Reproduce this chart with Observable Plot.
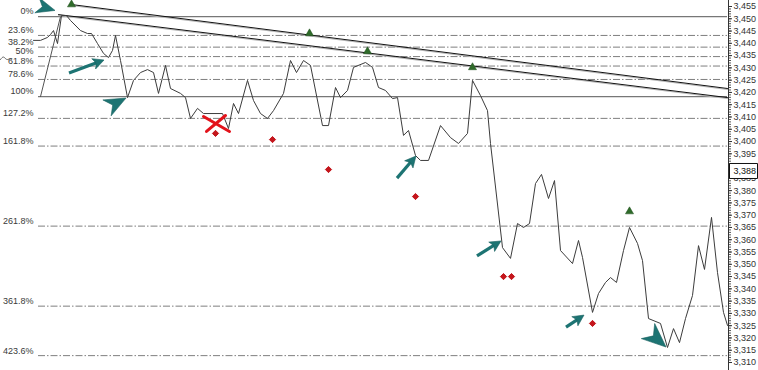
<!DOCTYPE html>
<html><head><meta charset="utf-8">
<script src="https://cdn.jsdelivr.net/npm/d3@7"></script>
<script src="https://cdn.jsdelivr.net/npm/@observablehq/plot@0.6"></script>
<style>body{margin:0;background:#fff}svg{display:block}</style>
</head><body><div id="chart"></div>
<script>
// ---- data ----
const priceT = [33,40,47,50,53,57,61,66,70,80,87,91,97,103,108,112,115,120,127,133,140,147,153,158,165,170,180,185,190,197,203,222,228,233,238,247,253,260,267,273,283,290,296,303,310,322,328,335,340,347,353,365,372,378,385,392,397,403,408,415,420,428,440,450,458,467,472,480,487,490,502,510,517,523,529,535,541,548,554,560,572,578,582,592,598,605,610,616,623,629,637,642,648,660,667,673,679,685,692,698,704,711,717,723,727];
const priceV = [3441.2,3441.2,3442.4,3443.6,3445.2,3439.9,3451.3,3451.3,3449.3,3445.2,3444.0,3444.0,3439.9,3435.9,3434.2,3437.1,3443.2,3433.0,3417.9,3424.9,3428.1,3429.3,3428.1,3419.6,3431.0,3421.6,3419.6,3417.9,3409.4,3413.5,3411.4,3411.4,3405.3,3415.5,3411.4,3424.9,3416.7,3411.4,3409.4,3412.6,3419.6,3433.0,3428.1,3433.0,3431.0,3406.5,3406.5,3422.0,3417.9,3420.8,3430.2,3432.2,3430.2,3422.0,3420.8,3417.5,3417.9,3402.5,3404.5,3394.3,3392.3,3392.3,3406.5,3401.6,3399.2,3403.3,3424.9,3418.7,3412.6,3399.2,3356.8,3352.4,3366.6,3365.0,3366.6,3382.9,3386.6,3376.8,3384.1,3355.6,3350.3,3359.7,3352.8,3330.4,3338.1,3342.6,3344.6,3342.6,3355.6,3365.0,3358.5,3351.5,3327.9,3325.9,3316.1,3323.8,3318.1,3327.9,3337.3,3357.6,3347.9,3369.1,3346.6,3330.4,3325.1];

const fibLabels = ["0%","23.6%","38.2%","50%","61.8%","78.6%","100%","127.2%","161.8%","261.8%","361.8%","423.6%"];
const fibPrices = [3450.9,3443.21,3438.45,3434.6,3430.75,3425.28,3418.3,3409.43,3398.15,3365.55,3332.95,3312.8];
const fibKind   = ["solid","dash","dash","dash","dash","dash","solid","dash","dash","dash","dash","dash"];
const fibSpanT  = [38, 727];
const fibAnchorT = [40, 60];
const fibAnchorV = [3418.3, 3450.9];

const trendName = ["A","A","B","B"];
const trendT = [71, 727, 58, 727];
const trendV = [3455.8, 3421.6, 3451.7, 3417.9];

const greenT = [71, 309, 367, 472, 629];
const greenV = [3455.8, 3444.0, 3436.7, 3430.2, 3371.5];

const redT = [215, 272, 328, 415, 503, 511, 592];
const redV = [3403.3, 3400.8, 3388.6, 3377.6, 3345.0, 3345.0, 3325.9];

const crossT1 = [203, 206];
const crossV1 = [3410.2, 3404.1];
const crossT2 = [229, 225];
const crossV2 = [3404.1, 3410.6];

const arrowKind  = ["head","shaft","head","shaft","shaft","shaft","head"];
const arrowTailT = [37, 69, 107, 397, 477, 566, 648];
const arrowTailV = [3455.3, 3427.7, 3413.5, 3384.9, 3353.2, 3324.2, 3322.6];
const arrowTipT  = [55, 104, 126, 416, 501, 584, 666];
const arrowTipV  = [3453.2, 3433.0, 3417.5, 3393.9, 3359.3, 3329.1, 3316.1];

const squiggleT = [0, 3, 6, 9, 11];
const squiggleV = [3433.4, 3435.0, 3433.0, 3433.8, 3433.4];

const yTicksMajor = d3.range(3310, 3456, 5);
const yTicksMinor = d3.range(3310, 3456, 1);
const yLabelHidden = [3390];          // covered by the last-price box
const lastPrice = [3388];
const xDomain = [0, 728];
const yDomain = [3310, 3455];

// ---- tables ----
const price = priceT.map((t, i) => ({t, v: priceV[i]}));
const fib = fibLabels.map((label, i) => ({label, v: fibPrices[i], kind: fibKind[i]}));
const trend = trendT.map((t, i) => ({t, v: trendV[i], z: trendName[i]}));
const fibAnchor = fibAnchorT.map((t, i) => ({t, v: fibAnchorV[i]}));
const squiggle = squiggleT.map((t, i) => ({t, v: squiggleV[i]}));
const greens = greenT.map((t, i) => ({t, v: greenV[i]}));
const reds = redT.map((t, i) => ({t, v: redV[i]}));
const crosses = crossT1.map((t, i) => ({x1: t, y1: crossV1[i], x2: crossT2[i], y2: crossV2[i]}));
const fmt = d3.format(",");

const NS = "http://www.w3.org/2000/svg";
function el(name, attrs) {
  const e = document.createElementNS(NS, name);
  for (const k in attrs) e.setAttribute(k, attrs[k]);
  return e;
}
function arrowsMark(index, scales) {
  const g = el("g", {});
  for (let i = 0; i < arrowKind.length; i++) {
    const x1 = scales.x(arrowTailT[i]), y1 = scales.y(arrowTailV[i]);
    const x2 = scales.x(arrowTipT[i]), y2 = scales.y(arrowTipV[i]);
    const dx = x2 - x1, dy = y2 - y1, len = Math.hypot(dx, dy);
    const ux = dx / len, uy = dy / len, px = -uy, py = ux;
    if (arrowKind[i] === "shaft") {
      const L = 11, W = 5.5;
      const bx = x2 - ux * L, by = y2 - uy * L;
      g.appendChild(el("line", {x1, y1, x2: bx + ux * 3, y2: by + uy * 3, stroke: "#1d7473", "stroke-width": 3.2, "stroke-linecap": "butt"}));
      const pts = [[x2, y2], [bx + px * W, by + py * W], [bx + ux * 2.5, by + uy * 2.5], [bx - px * W, by - py * W]];
      g.appendChild(el("polygon", {points: pts.map(p => p.join(",")).join(" "), fill: "#1d7473", stroke: "#175f5e", "stroke-width": 0.6}));
    } else {
      const L = len, W = len * 0.42;
      const bx = x1, by = y1;
      const pts = [[x2, y2], [bx + px * W, by + py * W], [bx + ux * L * 0.3, by + uy * L * 0.3], [bx - px * W, by - py * W]];
      g.appendChild(el("polygon", {points: pts.map(p => p.join(",")).join(" "), fill: "#1d7473", stroke: "#175f5e", "stroke-width": 0.6}));
    }
  }
  return g;
}
const boxSymbol = {draw(ctx) { ctx.rect(-14, -7.5, 28, 15); }};

const chart = Plot.plot({
  width: 758,
  height: 370,
  marginLeft: 0,
  marginRight: 30,
  marginTop: 0,
  marginBottom: 0,
  style: {fontFamily: "'Liberation Sans', Arial, sans-serif", fontSize: "9px", background: "#fff"},
  x: {domain: xDomain, range: [0, 728], axis: null},
  y: {domain: yDomain, range: [362, 6], axis: null},
  marks: [
    Plot.ruleY(fib.filter(d => d.kind === "dash"), {y: "v", x1: fibSpanT[0], x2: fibSpanT[1], stroke: "#7f7f7f", strokeWidth: 1, strokeDasharray: "7,2,1.5,2"}),
    Plot.ruleY(fib.filter(d => d.kind === "solid"), {y: "v", x1: fibSpanT[0], x2: fibSpanT[1], stroke: "#777", strokeWidth: 1.3}),
    Plot.text(fib, {y: "v", text: "label", frameAnchor: "left", dx: 33, dy: -5, textAnchor: "end", fill: "#3a3a3a", fontSize: 9}),
    Plot.line(fibAnchor, {x: "t", y: "v", stroke: "#555", strokeWidth: 1}),
    Plot.line(squiggle, {x: "t", y: "v", stroke: "#666", strokeWidth: 1, curve: "basis"}),
    Plot.line(trend, {x: "t", y: "v", z: "z", stroke: "#b5b5b5", strokeWidth: 1, dy: 1}),
    Plot.line(trend, {x: "t", y: "v", z: "z", stroke: "#111", strokeWidth: 1}),
    Plot.line(price, {x: "t", y: "v", stroke: "#3c3c3c", strokeWidth: 1}),
    Plot.dot(greens, {x: "t", y: "v", symbol: "triangle", r: 3, fill: "#2f6b2a", stroke: "#1f4f1c", strokeWidth: 0.5}),
    Plot.dot(reds, {x: "t", y: "v", symbol: "diamond2", r: 2.8, fill: "#c4161c", stroke: "#c4161c", strokeWidth: 1}),
    Plot.link(crosses, {x1: "x1", y1: "y1", x2: "x2", y2: "y2", stroke: "#e3131b", strokeWidth: 3, strokeLinecap: "round"}),
    arrowsMark,
    Plot.ruleX([xDomain[1]], {stroke: "#333", strokeWidth: 1}),
    Plot.axisY({anchor: "right", ticks: yTicksMinor, tickSize: 2, tickFormat: () => "", stroke: "#555"}),
    Plot.axisY({anchor: "right", ticks: yTicksMajor, tickSize: 3, tickPadding: 2,
      tickFormat: d => yLabelHidden.includes(d) ? "" : fmt(d), fill: "#333", stroke: "#333", fontSize: 9}),
    Plot.dot(lastPrice, {x: xDomain[1], y: d => d, dx: 15, symbol: boxSymbol, r: 1, fill: "#fff", stroke: "#111", strokeWidth: 1}),
    Plot.text(lastPrice, {x: xDomain[1], y: d => d, dx: 5, text: d => fmt(d), textAnchor: "start", fill: "#111", fontSize: 9})
  ]
});
document.getElementById("chart").appendChild(chart);
</script>
</body></html>
